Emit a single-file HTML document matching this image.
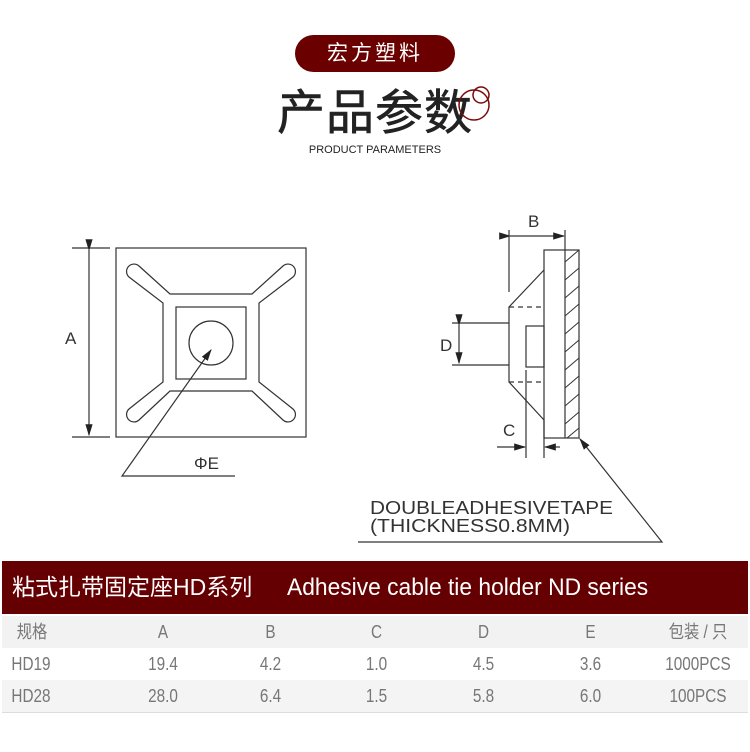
<!DOCTYPE html>
<html><head><meta charset="utf-8"><style>
body{margin:0;width:750px;height:752px;background:#fff;position:relative;overflow:hidden;font-family:"Liberation Sans","Noto Sans CJK SC",sans-serif}
.a{position:absolute}
.pill{left:295px;top:35px;width:160px;height:37px;border-radius:19px;background:#6a0000;color:#fff;font-size:21px;line-height:37px;text-align:center;letter-spacing:3px}
.t{left:0;width:750px;text-align:center}
.bar{left:2px;top:561px;width:746px;height:53px;background:#650002;color:#fff;font-size:23px;line-height:53px}
.row{left:2px;width:746px;height:32px;font-size:18px;color:#777}
.row div{position:absolute;top:0;height:100%;line-height:32px;text-align:center;transform:scaleX(.85)}
</style></head><body>
<div class="a pill">宏方塑料</div>
<div class="a t" style="top:85px;font-size:48px;color:#222;line-height:58px;letter-spacing:1px;-webkit-text-stroke:0.6px #222">产品参数</div>
<div class="a t" style="top:144px;font-size:11px;color:#222">PRODUCT PARAMETERS</div>
<svg class="a" style="left:0;top:0" width="750" height="560">
<defs><marker id="ar" markerWidth="10" markerHeight="8" refX="9" refY="4" orient="auto"><path d="M0,1 L10,4 L0,7Z" fill="#222"/></marker></defs>
<circle cx="474" cy="105" r="15" fill="none" stroke="#7a0a0a" stroke-width="1.5"/>
<circle cx="481" cy="95" r="8" fill="none" stroke="#7a0a0a" stroke-width="1.5"/>
<g fill="none" stroke="#333" stroke-width="1.2">
<rect x="116" y="248" width="190" height="189"/>
<rect x="176" y="307" width="70" height="72"/>
<circle cx="211" cy="343" r="22"/>
<path d="M170,294 L252,294 L283,266 A7,7 0 0 1 293,277 L259,303 L259,382 L293,409 A7,7 0 0 1 283,420 L252,391 L170,391 L139,420 A7,7 0 0 1 129,409 L163,382 L163,303 L129,277 A7,7 0 0 1 139,266 Z"/>
<line x1="72" y1="248" x2="110" y2="248"/><line x1="72" y1="437" x2="110" y2="437"/>
<line x1="89" y1="250" x2="89" y2="435" marker-end="url(#ar)" marker-start="url(#ar)"/>
<polyline points="235,476 122,476 211,350" marker-end="url(#ar)"/>
<rect x="544" y="250" width="35" height="188"/>
<line x1="565" y1="250" x2="565" y2="438"/>
<path d="M544,270 L509,307 L509,382 L544,420"/>
<path d="M509,307 L544,307 M509,382 L544,382" stroke-dasharray="5,4"/>
<path d="M452,323 L509,323 M452,365 L509,365"/>
<line x1="459" y1="325" x2="459" y2="363" marker-end="url(#ar)" marker-start="url(#ar)"/>
<rect x="526" y="326" width="18" height="41"/>
<path d="M526,370 L526,458 M544,420 L544,458"/>
<line x1="497" y1="447" x2="525" y2="447" marker-end="url(#ar)"/>
<line x1="560" y1="447" x2="545" y2="447" marker-end="url(#ar)"/>
<path d="M509,230 L509,292 M565,230 L565,250"/>
<line x1="510" y1="236" x2="564" y2="236" marker-end="url(#ar)" marker-start="url(#ar)"/>
<polyline points="358,542 662,542 580,439" marker-end="url(#ar)"/>
<g stroke-width="1">
<path d="M565,262 L579,250 M565,280 L579,268 M565,298 L579,286 M565,316 L579,304 M565,334 L579,322 M565,352 L579,340 M565,370 L579,358 M565,388 L579,376 M565,406 L579,394 M565,424 L579,412 M567,438 L579,428"/>
</g></g>
<g fill="#333" font-family="Liberation Sans,sans-serif" font-size="17">
<text x="65" y="344">A</text>
<text x="194" y="469">ΦE</text>
<text x="528" y="227">B</text>
<text x="440" y="351">D</text>
<text x="503" y="436">C</text>
<text x="370" y="514" font-size="18" textLength="243" lengthAdjust="spacingAndGlyphs">DOUBLEADHESIVETAPE</text>
<text x="370" y="532" font-size="18" textLength="200" lengthAdjust="spacingAndGlyphs">(THICKNESS0.8MM)</text>
</g></svg>
<div class="a bar"><span style="position:absolute;left:10px">粘式扎带固定座HD系列</span><span style="position:absolute;left:285px;font-size:24px;display:inline-block;transform:scaleX(0.95);transform-origin:left">Adhesive cable tie holder ND series</span></div>
<div class="a row" style="top:616px;background:#f2f2f2"><div style="left:0;width:60px">规格</div><div style="left:107px;width:108px">A</div><div style="left:216px;width:105px">B</div><div style="left:321px;width:107px">C</div><div style="left:428px;width:107px">D</div><div style="left:535px;width:107px">E</div><div style="left:646px;width:100px">包装 / 只</div></div>
<div class="a row" style="top:648px;background:#fff"><div style="left:4px;width:50px">HD19</div><div style="left:107px;width:108px">19.4</div><div style="left:216px;width:105px">4.2</div><div style="left:321px;width:107px">1.0</div><div style="left:428px;width:107px">4.5</div><div style="left:535px;width:107px">3.6</div><div style="left:646px;width:100px">1000PCS</div></div>
<div class="a row" style="top:680px;background:#f4f4f4;border-bottom:1px solid #ddd"><div style="left:4px;width:50px">HD28</div><div style="left:107px;width:108px">28.0</div><div style="left:216px;width:105px">6.4</div><div style="left:321px;width:107px">1.5</div><div style="left:428px;width:107px">5.8</div><div style="left:535px;width:107px">6.0</div><div style="left:646px;width:100px">100PCS</div></div>
</body></html>
